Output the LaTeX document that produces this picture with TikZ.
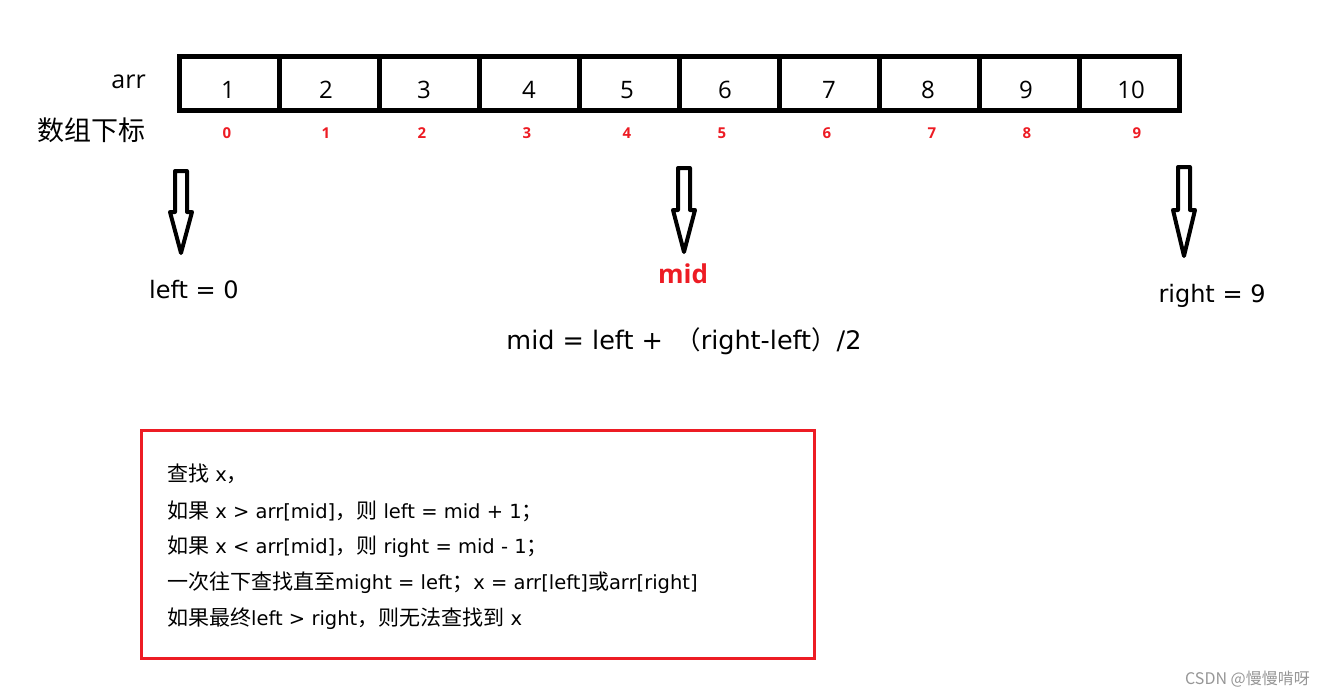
\documentclass[tikz,border=0pt]{standalone}
\usepackage{fontspec}
\setmainfont{Open Sans}
\newfontfamily\cjk{Noto Sans CJK SC}
\newfontfamily\lat{DejaVu Sans}
\definecolor{myred}{RGB}{237,28,36}
\definecolor{wm}{RGB}{150,150,150}
\begin{document}
\begin{tikzpicture}[x=1pt,y=-1pt,
  cell/.style={draw,line width=5pt,minimum width=100pt,minimum height=54pt,inner sep=0pt},
  num/.style={font=\fontsize{24}{24}\selectfont,inner sep=0pt},
  idx/.style={font=\fontsize{15}{15}\selectfont\bfseries,text=myred,inner sep=0pt},
  lbl/.style={font=\fontsize{24}{24}\selectfont\lat,inner sep=0pt},
  hollow/.style={draw,line width=4pt,line join=round},
  boxtxt/.style={font=\fontsize{19.5}{19.5}\selectfont\lat,inner sep=0pt,anchor=west}]
\useasboundingbox (0,0) rectangle (1325,697);
% array cells
\foreach \i in {0,...,9} {
  \node[cell] (c\i) at ({229+100*\i},83) {};
}
\foreach \n/\x [count=\k from 0] in {1/228,2/326,3/424,4/529,5/627,6/725,7/829,8/928,9/1026,10/1131} {
  \node[num] (n\k) at (\x,90) {\n};
}
\foreach \n/\x in {0/227,1/326,2/422,3/527,4/627,5/722,6/827,7/932,8/1027,9/1137} {
  \node[idx] (i\n) at (\x,133) {\n};
}
\node[anchor=east,font=\fontsize{25}{25}\selectfont,inner sep=0pt] (arr) at (146,82) {arr};
\node[anchor=east,font=\fontsize{27}{27}\selectfont\cjk,inner sep=0pt] (sub) at (146,130) {数组下标};
% hollow arrows
\foreach \nm/\x/\t/\h/\p in {a/181/171/212/253, b/684/168/210/252, c/1184/167/210/256} {
  \draw[hollow] (\x-6,\t) -- (\x+6,\t) -- (\x+6,\h) -- (\x+11,\h) -- (\x,\p) -- (\x-11,\h) -- (\x-6,\h) -- cycle;
}
\node[lbl] (left) at (194,290) {left = 0};
\node[text=myred,font=\fontsize{26}{26}\selectfont\bfseries,inner sep=0pt] (mid) at (683,274) {mid};
\node[lbl] (right) at (1212,296) {right = 9};
\node[lbl,font=\fontsize{25.5}{25.5}\selectfont\lat] (form) at (684,341) {mid = left + \,{\cjk （}right-left{\cjk ）}/2};
% red box
\draw[myred,line width=3pt] (141,430) rectangle (814,658);
\begin{scope}[every node/.append style={boxtxt}]
\node (l1) at (167,474) {{\cjk\fontsize{21}{21}\selectfont 查找} x{\cjk\fontsize{21}{21}\selectfont ，}};
\node (l2) at (167,511) {{\cjk\fontsize{21}{21}\selectfont 如果} x > arr[mid]{\cjk\fontsize{21}{21}\selectfont ，则} left = mid + 1{\cjk\fontsize{21}{21}\selectfont ；}};
\node (l3) at (167,547) {{\cjk\fontsize{21}{21}\selectfont 如果} x < arr[mid]{\cjk\fontsize{21}{21}\selectfont ，则} right = mid - 1{\cjk\fontsize{21}{21}\selectfont ；}};
\node (l4) at (167,583) {{\cjk\fontsize{21}{21}\selectfont 一次往下查找直至}might = left{\cjk\fontsize{21}{21}\selectfont ；}x = arr[left]{\cjk\fontsize{21}{21}\selectfont 或}arr[right]};
\node (l5) at (167,619) {{\cjk\fontsize{21}{21}\selectfont 如果最终}left > right{\cjk\fontsize{21}{21}\selectfont ，则无法查找到} x};
\end{scope}
\node[font=\fontsize{16}{16}\selectfont\cjk,text=wm,inner sep=0pt,anchor=east] (wmk) at (1310,679) {CSDN @慢慢啃呀};
\end{tikzpicture}
\end{document}
